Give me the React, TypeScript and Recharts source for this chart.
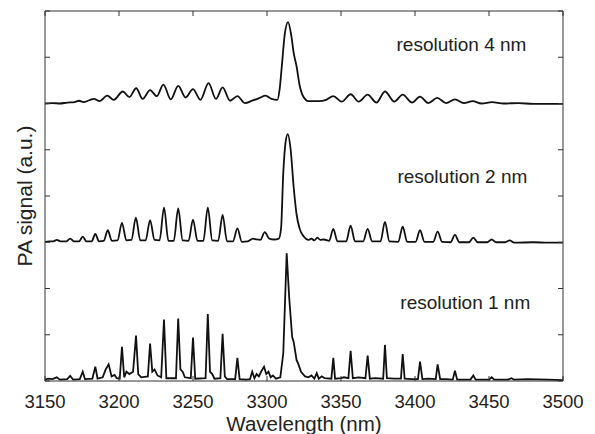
import { LineChart, Line, XAxis, YAxis, ReferenceDot } from 'recharts'

// resolution 1 nm (bottom trace, offset 0)
const res1Wavelength = [
  3150, 3152, 3155, 3158, 3160, 3165, 3167, 3169, 3173.5, 3175.5, 3177, 3182, 3184, 3185.5,
  3189, 3191, 3193, 3195, 3197, 3198.5, 3200.5, 3202, 3203.5, 3205, 3207, 3209.5, 3211.5, 3213,
  3215, 3219.5, 3221, 3222.5, 3224, 3226, 3228.5, 3230.4, 3232, 3238.5, 3240, 3241.5, 3243, 3244.5,
  3248.5, 3250, 3251.5, 3258.5, 3260, 3261.5, 3263, 3264.5, 3268.5, 3270, 3271.5, 3273, 3278.5, 3280,
  3281.5, 3286, 3288.5, 3290, 3291.5, 3293, 3294.5, 3296, 3298, 3299.5, 3301, 3302.5, 3304, 3306,
  3309, 3311, 3313.3, 3315, 3317, 3318, 3320, 3321, 3323, 3325.7, 3328, 3330, 3332, 3333.6, 3335,
  3337, 3339, 3343.5, 3344.8, 3346, 3350, 3352, 3355, 3356.5, 3358, 3362, 3366.5, 3368, 3369.5,
  3373, 3378.5, 3379.7, 3381, 3386, 3390.5, 3391.7, 3393, 3398, 3402, 3403.4, 3405, 3409, 3414,
  3415.3, 3417, 3421, 3425.5, 3427, 3428.5, 3437.5, 3439.4, 3441, 3450, 3451.8, 3453.5, 3463, 3465,
  3467, 3476, 3490, 3500,
]
const res1Signal = [
  0.03, 0.05, 0.04, 0.08, 0.03, 0.04, 0.11, 0.03, 0.04, 0.2, 0.04, 0.05, 0.31, 0.05,
  0.08, 0.25, 0.36, 0.1, 0.13, 0.06, 0.05, 0.74, 0.08, 0.2, 0.15, 0.2, 0.98, 0.15,
  0.08, 0.1, 0.81, 0.2, 0.25, 0.12, 0.08, 1.33, 0.06, 0.06, 1.35, 0.25, 0.2, 0.08,
  0.06, 0.94, 0.05, 0.06, 1.45, 0.2, 0.15, 0.05, 0.06, 1.02, 0.1, 0.04, 0.04, 0.5,
  0.04, 0.03, 0.04, 0.2, 0.06, 0.15, 0.1, 0.2, 0.31, 0.15, 0.2, 0.08, 0.12, 0.05,
  0.08, 0.6, 2.76, 1.8, 0.95, 0.85, 0.45, 0.38, 0.2, 0.1, 0.08, 0.12, 0.05, 0.17, 0.05,
  0.1, 0.06, 0.05, 0.5, 0.05, 0.06, 0.08, 0.06, 0.65, 0.06, 0.08, 0.06, 0.55, 0.05,
  0.06, 0.05, 0.78, 0.06, 0.05, 0.05, 0.58, 0.05, 0.04, 0.04, 0.42, 0.04, 0.05, 0.04,
  0.36, 0.04, 0.04, 0.03, 0.22, 0.03, 0.03, 0.12, 0.03, 0.03, 0.08, 0.03, 0.03, 0.06,
  0.03, 0.04, 0.03, 0.02,
]

// resolution 2 nm (middle trace, offset 3)
const res2Wavelength = [
  3150, 3153, 3155.5, 3158, 3160.5, 3164.5, 3167, 3169.5, 3173, 3175.5, 3178, 3181.5, 3184, 3186.5,
  3189.7, 3192.4, 3195.2, 3199, 3202, 3205, 3208.4, 3211.4, 3214.4, 3218, 3221, 3224, 3227.4, 3230.4,
  3233.4, 3237, 3240, 3243, 3247, 3250, 3253, 3257, 3260, 3263, 3267, 3270, 3273, 3277,
  3280, 3283, 3287, 3290.5, 3293, 3295.5, 3298.5, 3301.5, 3305, 3308, 3309.5, 3311, 3312.5, 3314,
  3316, 3318, 3320, 3322, 3325, 3328, 3330, 3332, 3334, 3336, 3338.5, 3342, 3344.8, 3347.6,
  3353.5, 3356.5, 3359.5, 3365, 3368, 3371, 3376.7, 3379.7, 3382.7, 3388.7, 3391.7, 3394.7, 3400.4, 3403.4,
  3406.4, 3412.3, 3415.3, 3418.3, 3424, 3427, 3430, 3436.4, 3439.4, 3442.4, 3448.8, 3451.8, 3454.8, 3461,
  3464, 3467, 3480, 3490, 3500,
]
const res2Signal = [
  3.01, 3.02, 3.02, 3.05, 3.02, 3.02, 3.08, 3.02, 3.02, 3.12, 3.02, 3.02, 3.18, 3.02,
  3.03, 3.26, 3.03, 3.04, 3.42, 3.04, 3.05, 3.53, 3.04, 3.04, 3.48, 3.05, 3.04, 3.75,
  3.03, 3.03, 3.73, 3.04, 3.03, 3.49, 3.03, 3.03, 3.75, 3.04, 3.03, 3.59, 3.02, 3.02,
  3.3, 3.01, 3.02, 3.08, 3.06, 3.05, 3.22, 3.08, 3.06, 3.08, 3.3, 4.5, 5.15, 5.34,
  5.0, 4.2, 3.6, 3.3, 3.12, 3.05, 3.08, 3.04, 3.1, 3.05, 3.06, 3.03, 3.29, 3.02,
  3.02, 3.36, 3.02, 3.02, 3.29, 3.02, 3.02, 3.44, 3.02, 3.01, 3.34, 3.01, 3.01, 3.26,
  3.01, 3.01, 3.23, 3.01, 3.0, 3.16, 3.0, 3.0, 3.1, 3.0, 3.0, 3.06, 3.0, 3.0,
  3.04, 2.99, 3.0, 2.99, 2.99,
]

// resolution 4 nm (top trace, offset 6)
const res4Wavelength = [
  3150, 3155, 3160, 3165, 3170, 3173, 3176, 3180, 3183, 3187, 3192, 3196.5, 3202.5, 3207,
  3211.6, 3216, 3221, 3225.5, 3230, 3235, 3240, 3245, 3250, 3255, 3260.5, 3265.5, 3270, 3275,
  3280, 3285, 3290, 3295, 3299, 3303, 3307, 3308.5, 3310, 3312, 3314.2, 3316.5, 3318, 3320,
  3322, 3324.5, 3328, 3335, 3340, 3344.8, 3350.5, 3356.5, 3362, 3368, 3374, 3379.7, 3386, 3391.7,
  3398, 3403.4, 3409, 3415, 3421, 3427, 3433, 3439, 3445, 3452, 3460, 3470, 3480, 3500,
]
const res4Signal = [
  6.0, 6.01, 6.0, 6.02, 6.03, 6.06, 6.03, 6.07, 6.1, 6.05, 6.17, 6.08, 6.26, 6.14,
  6.33, 6.1, 6.29, 6.16, 6.41, 6.09, 6.38, 6.13, 6.31, 6.08, 6.44, 6.1, 6.35, 6.06,
  6.16, 6.01, 6.06, 6.12, 6.17, 6.1, 6.08, 6.3, 6.8, 7.5, 7.76, 7.45, 7.1, 6.8,
  6.4, 6.15, 6.05, 6.05, 6.08, 6.16, 6.04, 6.2, 6.04, 6.19, 6.02, 6.26, 6.04, 6.19,
  6.02, 6.15, 6.01, 6.12, 6.01, 6.09, 6.01, 6.05, 6.0, 6.03, 6.0, 6.01, 5.99, 5.99,
]

const xTicks = [3150, 3200, 3250, 3300, 3350, 3400, 3450, 3500]
const yTicks = [0, 1, 2, 3, 4, 5, 6, 7, 8]

const labels = ['resolution 4 nm', 'resolution 2 nm', 'resolution 1 nm']
const labelX = [3431.4, 3432, 3434]
const labelY = [7.28, 4.43, 1.7]

const toPoints = (xs: number[], ys: number[]) => xs.map((w, i) => ({ wavelength: w, signal: ys[i] }))

const res1Data = toPoints(res1Wavelength, res1Signal)
const res2Data = toPoints(res2Wavelength, res2Signal)
const res4Data = toPoints(res4Wavelength, res4Signal)

const FONT = 'Liberation Sans, Arial, Helvetica, sans-serif'
const AXIS = '#333'
const INK = '#111'

export default function App() {
  const tickStyle = { fontSize: 18.5, fill: '#222', fontFamily: FONT }
  const blank = () => ''

  return (
    <div style={{ position: 'absolute', left: 0, top: 0, width: 595, height: 434, background: '#fff' }}>
      <LineChart width={595} height={434} margin={{ top: 0, right: 0, bottom: 0, left: 0 }}>
        <XAxis
          xAxisId="bottom"
          dataKey="wavelength"
          type="number"
          domain={[3150, 3500]}
          ticks={xTicks}
          allowDataOverflow
          height={53}
          tickSize={-5}
          tickMargin={19}
          stroke={AXIS}
          tick={tickStyle}
          label={{
            value: 'Wavelength (nm)',
            position: 'insideBottom',
            offset: 3,
            style: { fontSize: 20.5, fill: '#222', fontFamily: FONT },
          }}
        />
        <XAxis
          xAxisId="top"
          orientation="top"
          dataKey="wavelength"
          type="number"
          domain={[3150, 3500]}
          ticks={xTicks}
          allowDataOverflow
          height={11}
          tickSize={-5}
          stroke={AXIS}
          tickFormatter={blank}
        />
        <YAxis
          yAxisId="left"
          type="number"
          domain={[0, 8]}
          ticks={yTicks}
          allowDataOverflow
          width={45}
          tickSize={-5}
          stroke={AXIS}
          tickFormatter={blank}
          label={{
            value: 'PA signal (a.u.)',
            angle: -90,
            position: 'center',
            dx: 2,
            style: { fontSize: 21, fill: '#222', fontFamily: FONT },
          }}
        />
        <YAxis
          yAxisId="right"
          orientation="right"
          type="number"
          domain={[0, 8]}
          ticks={yTicks}
          allowDataOverflow
          width={32}
          tickSize={-5}
          stroke={AXIS}
          tickFormatter={blank}
        />
        <Line
          xAxisId="bottom"
          yAxisId="left"
          data={res1Data}
          dataKey="signal"
          type="linear"
          stroke={INK}
          strokeWidth={1.8}
          dot={false}
          isAnimationActive={false}
        />
        <Line
          xAxisId="bottom"
          yAxisId="left"
          data={res2Data}
          dataKey="signal"
          type="monotone"
          stroke={INK}
          strokeWidth={1.8}
          dot={false}
          isAnimationActive={false}
        />
        <Line
          xAxisId="bottom"
          yAxisId="left"
          data={res4Data}
          dataKey="signal"
          type="monotone"
          stroke={INK}
          strokeWidth={1.8}
          dot={false}
          isAnimationActive={false}
        />
        {labels.map((text, i) => (
          <ReferenceDot
            key={text}
            xAxisId="bottom"
            yAxisId="left"
            x={labelX[i]}
            y={labelY[i]}
            r={0}
            stroke="none"
            fill="none"
            label={{
              value: text,
              position: 'center',
              style: { fontSize: 19, fill: '#222', fontFamily: FONT },
            }}
          />
        ))}
      </LineChart>
    </div>
  )
}
